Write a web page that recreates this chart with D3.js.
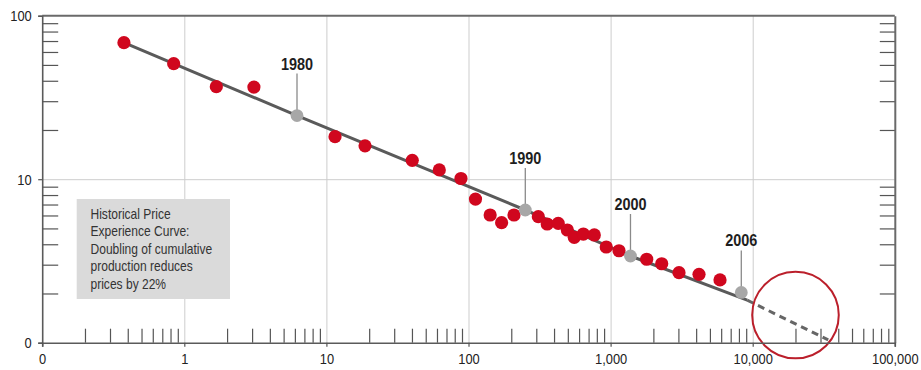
<!DOCTYPE html>
<html>
<head>
<meta charset="utf-8">
<script src="https://cdnjs.cloudflare.com/ajax/libs/d3/7.8.5/d3.min.js"></script>
<style>
    body { margin: 0; background: #ffffff; }
    svg text { font-family: "Liberation Sans", Arial, sans-serif; }
</style>
</head>
<body>
<div id="chart-container"></div>
<script>
// red dots: cumulative production (MW) vs module price
var cumulativeMW = [0.376, 0.842, 1.68, 3.09, 11.5, 18.7, 40.2, 62.3, 88.5, 112, 142, 171, 209,
    310, 358, 428, 496, 555, 643, 768, 932, 1146, 1795, 2289, 3030, 4190, 5888];
var pricePerWatt = [68.4, 50.9, 36.8, 36.6, 18.2, 16.0, 13.05, 11.4, 10.1, 7.56, 6.04, 5.42, 6.04,
    5.90, 5.32, 5.37, 4.89, 4.41, 4.62, 4.56, 3.85, 3.65, 3.24, 3.04, 2.68, 2.62, 2.42];

// grey milestone points on the experience curve
var milestoneYears = ["1980", "1990", "2000", "2006"];
var milestoneMW = [6.21, 251, 1380, 8313];
var milestonePrice = [24.5, 6.48, 3.39, 2.03];

// fitted curve and its projection
var trendMW = [0.376, 6.21, 251, 1380, 9146];
var trendPrice = [68.4, 24.5, 6.48, 3.39, 1.82];
var projectionMW = [9146, 34000];
var projectionPrice = [1.82, 1.04];

// highlighted target area
var targetMW = 20000;
var targetPrice = 1.476;

// axis ticks
var xTickValues = [0.1, 1, 10, 100, 1000, 10000, 100000];
var xTickLabels = ["0", "1", "10", "100", "1,000", "10,000", "100,000"];
var yTickValues = [1, 10, 100];
var yTickLabels = ["0", "10", "100"];

var noteLines = ["Historical Price", "Experience Curve:", "Doubling of cumulative", "production reduces", "prices by 22%"];


var width = 921;
var height = 370;
var margin = { top: 15.7, right: 26.2, bottom: 27.3, left: 42.2 };
var squeeze = 0.86; // narrow the type like a condensed face

var svg = d3.select("#chart-container")
    .append("svg")
    .attr("width", width)
    .attr("height", height);

var xScale = d3.scaleLog()
    .domain([0.1, 100000])
    .range([margin.left, width - margin.right]);

var yScale = d3.scaleLog()
    .domain([1, 100])
    .range([height - margin.bottom, margin.top]);

var plotBottom = height - margin.bottom;
var plotRight = width - margin.right;

// minor tick values (2..9 in every decade)
var minorX = [];
[0.1, 1, 10, 100, 1000, 10000].forEach(function (base) {
    for (var k = 2; k <= 9; k++) minorX.push(base * k);
});
var minorY = [];
[1, 10].forEach(function (base) {
    for (var k = 2; k <= 9; k++) minorY.push(base * k);
});

// gridlines
svg.append("g")
    .attr("class", "grid")
    .attr("transform", "translate(0," + plotBottom + ")")
    .call(d3.axisBottom(xScale)
        .tickValues([1, 10, 100, 1000, 10000])
        .tickSize(-(plotBottom - margin.top))
        .tickFormat(""))
    .call(function (g) { g.select(".domain").remove(); })
    .selectAll("line")
    .attr("stroke", "#cdcdcd")
    .attr("stroke-width", 1);

svg.append("g")
    .attr("class", "grid")
    .attr("transform", "translate(" + margin.left + ",0)")
    .call(d3.axisLeft(yScale)
        .tickValues([10])
        .tickSize(-(plotRight - margin.left))
        .tickFormat(""))
    .call(function (g) { g.select(".domain").remove(); })
    .selectAll("line")
    .attr("stroke", "#cdcdcd")
    .attr("stroke-width", 1);

// note box
var noteBox = svg.append("g");
noteBox.append("rect")
    .attr("x", 76.7)
    .attr("y", 199)
    .attr("width", 153.3)
    .attr("height", 100)
    .attr("fill", "#dadada");

noteBox.selectAll("text")
    .data(noteLines)
    .enter()
    .append("text")
    .attr("transform", function (d, i) {
        return "translate(90.5," + (218.5 + i * 17.6) + ") scale(" + squeeze + ",1)";
    })
    .style("font-size", "14px")
    .style("fill", "#333333")
    .text(function (d) { return d; });

// experience curve
var line = d3.line()
    .x(function (d) { return xScale(d[0]); })
    .y(function (d) { return yScale(d[1]); });

svg.append("path")
    .datum(d3.zip(trendMW, trendPrice))
    .attr("d", line)
    .attr("fill", "none")
    .attr("stroke", "#5a5a5a")
    .attr("stroke-width", 3);

svg.append("path")
    .datum(d3.zip(projectionMW, projectionPrice))
    .attr("d", line)
    .attr("fill", "none")
    .attr("stroke", "#666666")
    .attr("stroke-width", 3)
    .attr("stroke-dasharray", "7,5");

// historical prices
svg.selectAll("circle.price")
    .data(d3.zip(cumulativeMW, pricePerWatt))
    .enter()
    .append("circle")
    .attr("class", "price")
    .attr("cx", function (d) { return xScale(d[0]); })
    .attr("cy", function (d) { return yScale(d[1]); })
    .attr("r", 6.6)
    .attr("fill", "#d0071e");

// milestones with leaders and year labels
var milestones = milestoneYears.map(function (year, i) {
    return { year: year, mw: milestoneMW[i], price: milestonePrice[i] };
});

var labelGap = 46;

svg.selectAll("line.leader")
    .data(milestones)
    .enter()
    .append("line")
    .attr("class", "leader")
    .attr("x1", function (d) { return xScale(d.mw); })
    .attr("x2", function (d) { return xScale(d.mw); })
    .attr("y1", function (d) { return yScale(d.price) - labelGap + 4; })
    .attr("y2", function (d) { return yScale(d.price); })
    .attr("stroke", "#8a8a8a")
    .attr("stroke-width", 1.3);

svg.selectAll("circle.milestone")
    .data(milestones)
    .enter()
    .append("circle")
    .attr("class", "milestone")
    .attr("cx", function (d) { return xScale(d.mw); })
    .attr("cy", function (d) { return yScale(d.price); })
    .attr("r", 6.4)
    .attr("fill", "#a7a7a7");

svg.selectAll("text.year")
    .data(milestones)
    .enter()
    .append("text")
    .attr("class", "year")
    .attr("transform", function (d) {
        return "translate(" + xScale(d.mw) + "," + (yScale(d.price) - labelGap) + ") scale(0.85,1)";
    })
    .attr("text-anchor", "middle")
    .style("font-size", "17px")
    .style("font-weight", "bold")
    .style("fill", "#1e1e1e")
    .text(function (d) { return d.year; });

// target circle
svg.append("circle")
    .attr("cx", xScale(targetMW))
    .attr("cy", yScale(targetPrice))
    .attr("r", 43.3)
    .attr("fill", "none")
    .attr("stroke", "#bb1f2b")
    .attr("stroke-width", 2);

// axes
function styleAxis(g) {
    g.selectAll("line").attr("stroke", "#555555").attr("stroke-width", 1.2);
    g.selectAll(".domain").attr("stroke", "#5a5a5a").attr("stroke-width", 1.6);
    g.selectAll("text")
        .style("font-size", "15px")
        .style("fill", "#222222");
}

// top border
svg.append("line")
    .attr("x1", margin.left)
    .attr("x2", plotRight)
    .attr("y1", margin.top)
    .attr("y2", margin.top)
    .attr("stroke", "#6a6a6a")
    .attr("stroke-width", 2);

// left axis with labels
svg.append("g")
    .attr("transform", "translate(" + margin.left + ",0)")
    .call(d3.axisLeft(yScale)
        .tickValues(yTickValues)
        .tickSize(4)
        .tickPadding(8.2)
        .tickFormat(function (d, i) { return yTickLabels[i]; }))
    .call(styleAxis)
    .selectAll("text")
    .attr("transform", "scale(" + squeeze + ",1)");

// left minor ticks pointing inward
svg.append("g")
    .attr("transform", "translate(" + margin.left + ",0)")
    .call(d3.axisRight(yScale).tickValues(minorY).tickSize(16).tickFormat(""))
    .call(function (g) { g.select(".domain").remove(); })
    .call(styleAxis);

// right axis, ticks pointing inward
svg.append("g")
    .attr("transform", "translate(" + plotRight + ",0)")
    .call(d3.axisLeft(yScale).tickValues(minorY).tickSizeInner(15).tickSizeOuter(0).tickFormat(""))
    .call(styleAxis)
    .select(".domain")
    .attr("stroke", "#6a6a6a")
    .attr("stroke-width", 2);

// bottom axis with labels
svg.append("g")
    .attr("transform", "translate(0," + plotBottom + ")")
    .call(d3.axisBottom(xScale)
        .tickValues(xTickValues)
        .tickSize(4)
        .tickPadding(7)
        .tickFormat(function (d, i) { return xTickLabels[i]; }))
    .call(styleAxis)
    .selectAll("text")
    .attr("transform", "scale(" + squeeze + ",1)");

// bottom minor ticks pointing up
svg.append("g")
    .attr("transform", "translate(0," + plotBottom + ")")
    .call(d3.axisTop(xScale).tickValues(minorX).tickSize(14).tickFormat(""))
    .call(function (g) { g.select(".domain").remove(); })
    .call(styleAxis);
</script>
</body>
</html>
